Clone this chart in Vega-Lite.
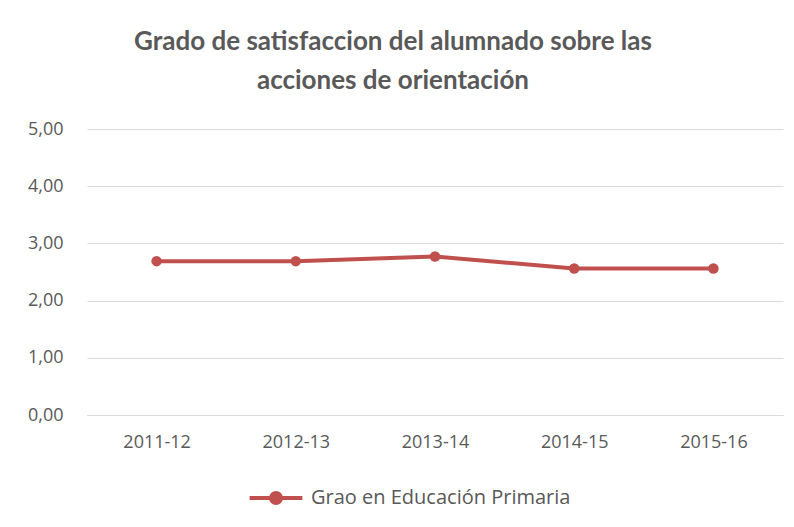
{
  "$schema": "https://vega.github.io/schema/vega-lite/v6.json",
  "autosize": "none",
  "width": 696,
  "height": 286,
  "padding": {"left": 87, "top": 129, "right": 11, "bottom": 112},
  "background": "white",
  "title": {
    "text": ["Grado de satisfaccion del alumnado sobre las", "acciones de orientación"],
    "font": "Lato",
    "fontSize": 26,
    "fontWeight": "bold",
    "color": "#595959",
    "lineHeight": 39,
    "anchor": "middle",
    "dx": -42,
    "offset": 26
  },
  "data": {
    "values": [
      {"curso": "2011-12", "valor": 2.69, "serie": "Grao en Educación Primaria"},
      {"curso": "2012-13", "valor": 2.69, "serie": "Grao en Educación Primaria"},
      {"curso": "2013-14", "valor": 2.77, "serie": "Grao en Educación Primaria"},
      {"curso": "2014-15", "valor": 2.56, "serie": "Grao en Educación Primaria"},
      {"curso": "2015-16", "valor": 2.56, "serie": "Grao en Educación Primaria"}
    ]
  },
  "mark": {"type": "line", "strokeWidth": 4, "point": {"size": 110, "filled": true}},
  "encoding": {
    "x": {
      "field": "curso",
      "type": "ordinal",
      "scale": {"padding": 0.5},
      "axis": {
        "title": null,
        "labelAngle": 0,
        "labelFont": "Open Sans",
        "labelFontSize": 18,
        "labelColor": "#595959",
        "labelPadding": 18,
        "domainColor": "#d9d9d9",
        "ticks": false,
        "grid": false
      }
    },
    "y": {
      "field": "valor",
      "type": "quantitative",
      "scale": {"domain": [0, 5]},
      "axis": {
        "title": null,
        "values": [0, 1, 2, 3, 4, 5],
        "format": ".2f",
        "labelExpr": "replace(datum.label, '.', ',')",
        "labelFont": "Open Sans",
        "labelFontSize": 18,
        "labelColor": "#595959",
        "labelPadding": 24,
        "domain": false,
        "ticks": false,
        "gridColor": "#d9d9d9",
        "gridWidth": 1
      }
    },
    "color": {
      "field": "serie",
      "type": "nominal",
      "scale": {"range": ["#c0504d"]},
      "legend": {
        "title": null,
        "orient": "none",
        "legendX": 170,
        "legendY": 350,
        "symbolType": "M-1.6,0L1.6,0M0.3,0A0.3,0.3 0 1,1 -0.3,0A0.3,0.3 0 1,1 0.3,0Z",
        "symbolSize": 1090,
        "symbolStrokeWidth": 4,
        "labelFont": "Open Sans",
        "labelFontSize": 20,
        "labelColor": "#595959",
        "labelOffset": 16,
        "labelLimit": 400
      }
    }
  },
  "config": {"view": {"stroke": null}}
}
